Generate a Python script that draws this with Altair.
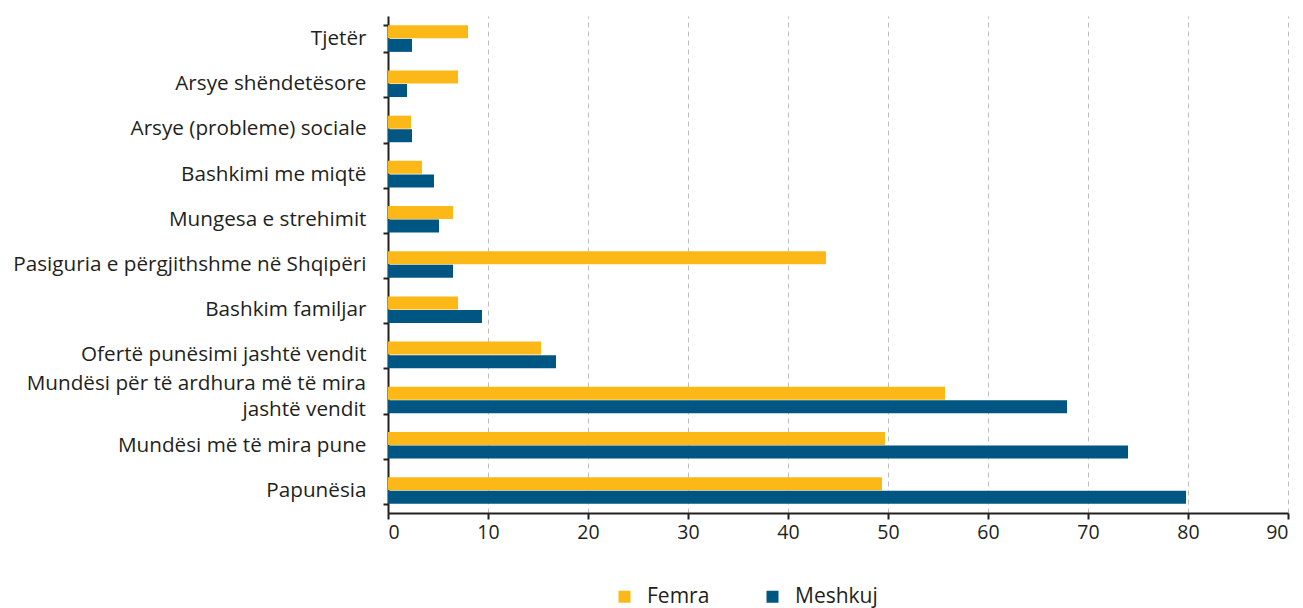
import altair as alt
import pandas as pd

categories = [
    "Tjetër",
    "Arsye shëndetësore",
    "Arsye (probleme) sociale",
    "Bashkimi me miqtë",
    "Mungesa e strehimit",
    "Pasiguria e përgjithshme në Shqipëri",
    "Bashkim familjar",
    "Ofertë punësimi jashtë vendit",
    "Mundësi për të ardhura më të mira|jashtë vendit",
    "Mundësi më të mira pune",
    "Papunësia",
]
femra = [8.0, 7.0, 2.3, 3.4, 6.5, 43.8, 7.0, 15.3, 55.7, 49.7, 49.4]
meshkuj = [2.4, 1.9, 2.4, 4.6, 5.1, 6.5, 9.4, 16.8, 67.9, 74.0, 79.8]
series = ["Femra", "Meshkuj"]
colors = ["#FBB817", "#005682"]

rows = []
for c, f, m in zip(categories, femra, meshkuj):
    rows.append({"cat": c, "series": "Femra", "value": f})
    rows.append({"cat": c, "series": "Meshkuj", "value": m})
df = pd.DataFrame(rows)
multi_df = pd.DataFrame({"cat": [c for c in categories if "|" in c]})

font = "Open Sans"
text_color = "#231F20"

y_axis = alt.Axis(
    title=None,
    labelExpr="indexof(datum.label, '|') >= 0 ? '' : datum.label",
    labelFontSize=20.7,
    labelFont=font,
    labelColor=text_color,
    labelPadding=17,
    labelLimit=400,
    tickBand="extent",
    tickSize=5,
    tickColor=text_color,
    tickWidth=2,
    domainColor=text_color,
    domainWidth=2,
    grid=False,
)
y_scale = alt.Scale(paddingInner=0.4, paddingOuter=0.2)

bars = alt.Chart(df).mark_bar(size=13).encode(
    y=alt.Y("cat:N", sort=categories, scale=y_scale, axis=y_axis),
    yOffset=alt.YOffset("series:N", sort=series),
    x=alt.X(
        "value:Q",
        scale=alt.Scale(domain=[0, 90], nice=False),
        axis=alt.Axis(
            title=None,
            values=list(range(0, 91, 10)),
            labelFontSize=19.5,
            labelFont=font,
            labelColor=text_color,
            labelPadding=4,
            tickSize=6,
            tickColor=text_color,
            tickWidth=2,
            domainColor=text_color,
            domainWidth=2,
            grid=True,
            gridColor="#BEBEBE",
            gridDash=[5, 4],
            gridWidth=1,
        ),
    ),
    color=alt.Color(
        "series:N",
        sort=series,
        scale=alt.Scale(domain=series, range=colors),
        legend=alt.Legend(
            title=None,
            orient="none",
            direction="horizontal",
            legendX=226,
            legendY=570,
            symbolType="square",
            symbolSize=144,
            symbolStrokeWidth=0,
            labelFontSize=21,
            labelFont=font,
            labelColor=text_color,
            columnPadding=52,
            labelOffset=12,
        ),
    ),
)

multi_label = alt.Chart(multi_df).mark_text(
    align="right",
    baseline="middle",
    lineBreak="|",
    lineHeight=26,
    dy=-16,
    font=font,
    fontSize=20.7,
    color=text_color,
).encode(
    y=alt.Y("cat:N", sort=categories, scale=y_scale, axis=y_axis),
    x=alt.value(-22),
    text="cat:N",
)

chart = alt.layer(bars, multi_label).properties(
    width=900,
    height=497,
    autosize=alt.AutoSizeParams(type="none"),
    padding={"left": 380, "top": 8, "right": 7, "bottom": 100},
).configure_view(stroke=None)

chart.save("out.html", embed_options={"renderer": "svg", "actions": False})
